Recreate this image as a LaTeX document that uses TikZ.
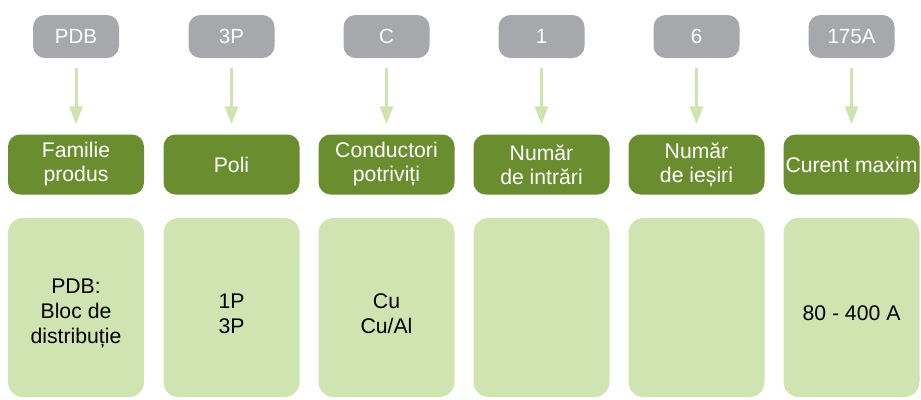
\documentclass[tikz,border=0pt]{standalone}
\usepackage{fontspec}
\setmainfont{Liberation Sans}
\usetikzlibrary{arrows.meta}
\definecolor{codegray}{HTML}{A7A8AB}
\definecolor{darkgreen}{HTML}{6A8E2F}
\definecolor{lightgreen}{HTML}{CFE4B0}
\tikzset{
  codebox/.style={fill=codegray, rounded corners=12pt, minimum width=86pt, minimum height=43pt, inner sep=0pt, text=white, font=\fontsize{20.5}{24}\selectfont},
  catbox/.style={fill=darkgreen, rounded corners=12pt, minimum width=136pt, minimum height=60pt, inner sep=0pt, text=white, align=center, font=\fontsize{21.2}{24}\selectfont},
  valbox/.style={fill=lightgreen, rounded corners=15pt, minimum width=136pt, minimum height=179pt, inner sep=0pt},
  valtext/.style={text=black, align=center, inner sep=0pt, font=\fontsize{21.2}{24.8}\selectfont},
  link/.style={draw=lightgreen, line width=3pt, -{Triangle[width=13pt,length=18pt]}, shorten <=10pt, shorten >=10pt}
}
\begin{document}
\begin{tikzpicture}[x=1pt,y=-1pt]
\useasboundingbox (0,0) rectangle (921,399);
\foreach \i/\x/\code/\cat/\val in {
  1/76/PDB/{Familie\\produs}/{PDB:\\Bloc de\\distribuție},
  2/231.5/3P/{Poli}/{1P\\3P},
  3/386.5/C/{Conductori\\potriviți}/{Cu\\Cu/Al},
  4/541.5/1/{Număr\\de intrări}/{},
  5/696.5/6/{Număr\\de ieșiri}/{},
  6/851.5/175A/{Curent maxim}/{80 - 400 A}}{
  \node[codebox] (g\i) at (\x,36.5) {\code};
  \node[catbox] (c\i) at (\x,164.5) {\cat};
  \node[valbox] (v\i) at (\x,307.5) {};
  \node[valtext] (t\i) at (\x,313.5) {\val};
  \draw[link] (g\i.south) -- (c\i.north);
}
\end{tikzpicture}
\end{document}
